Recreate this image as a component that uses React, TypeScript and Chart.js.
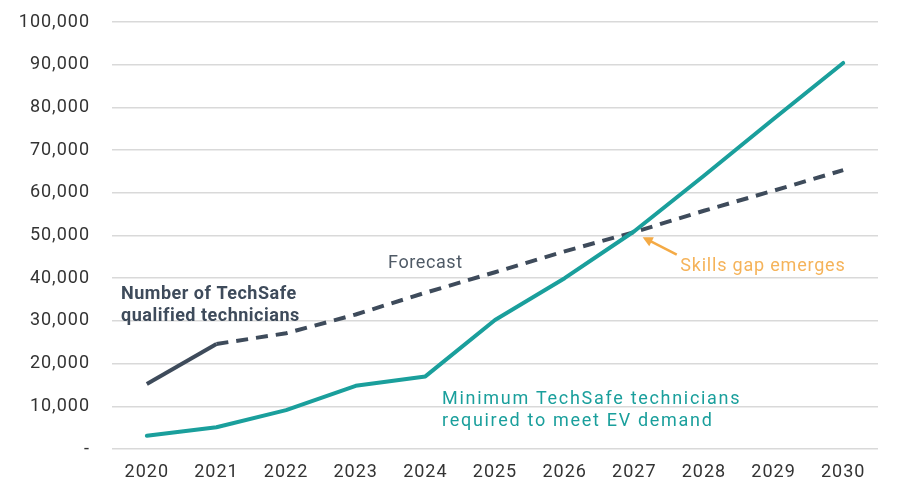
import React, { useRef, useEffect } from 'react';
import { Chart, registerables } from 'chart.js';

Chart.register(...registerables);

const years = ['2020', '2021', '2022', '2023', '2024', '2025', '2026', '2027', '2028', '2029', '2030'];
const qualifiedTechnicians = [15200, 24600, 27100, 31500, 36600, 41400, 46300, 50800, 55800, 60500, 65300];
const requiredTechnicians = [3100, 5100, 9100, 14800, 17000, 30200, 40000, 51000, 64000, 77300, 90400];
const yTicks = [0, 10000, 20000, 30000, 40000, 50000, 60000, 70000, 80000, 90000, 100000];

const TEAL = '#1a9f9c';
const SLATE = '#3e4b5b';
const ORANGE = '#f4aa45';

// text notes anchored to category index / value
const notes = [
    { lines: ['Number of TechSafe', 'qualified technicians'], x: -0.37, y: 36200, color: SLATE, weight: 'bold', align: 'left', spacing: 0.5 },
    { lines: ['Forecast'], x: 4.0, y: 43400, color: '#4f5a66', weight: 'normal', align: 'center', spacing: 0.6 },
    { lines: ['Skills gap emerges'], x: 7.66, y: 42700, color: '#f5b35a', weight: 'normal', align: 'left', spacing: 0.8 },
    { lines: ['Minimum TechSafe technicians', 'required to meet EV demand'], x: 4.24, y: 11500, color: TEAL, weight: 'normal', align: 'left', spacing: 1.7 },
];
const gapArrow = { from: [7.61, 45500], to: [7.12, 49600] };

const spacingPlugin = {
    id: 'spacing',
    beforeUpdate(chart: any) { chart.ctx.letterSpacing = '1px'; },
    beforeDraw(chart: any) { chart.ctx.letterSpacing = '1px'; },
};

const notesPlugin = {
    id: 'notes',
    afterDatasetsDraw(chart: any) {
        const { ctx, scales } = chart;
        const xs = scales.x;
        const ys = scales.y;
        const step = xs.getPixelForValue(1) - xs.getPixelForValue(0);
        const px = (i: number) => xs.getPixelForValue(0) + i * step;
        ctx.save();
        ctx.textBaseline = 'middle';
        for (const n of notes) {
            ctx.font = `${n.weight} 18px Roboto, sans-serif`;
            ctx.letterSpacing = `${n.spacing}px`;
            ctx.fillStyle = n.color;
            ctx.textAlign = n.align;
            n.lines.forEach((line, k) => {
                ctx.fillText(line, px(n.x), ys.getPixelForValue(n.y) + k * 22);
            });
        }
        // arrow to the crossing point
        const x1 = px(gapArrow.from[0]);
        const y1 = ys.getPixelForValue(gapArrow.from[1]);
        const x2 = px(gapArrow.to[0]);
        const y2 = ys.getPixelForValue(gapArrow.to[1]);
        const ang = Math.atan2(y2 - y1, x2 - x1);
        ctx.strokeStyle = ORANGE;
        ctx.fillStyle = ORANGE;
        ctx.lineWidth = 2.5;
        ctx.beginPath();
        ctx.moveTo(x1, y1);
        ctx.lineTo(x2 - 6 * Math.cos(ang), y2 - 6 * Math.sin(ang));
        ctx.stroke();
        ctx.beginPath();
        ctx.moveTo(x2, y2);
        ctx.lineTo(x2 - 10 * Math.cos(ang) + 5 * Math.sin(ang), y2 - 10 * Math.sin(ang) - 5 * Math.cos(ang));
        ctx.lineTo(x2 - 10 * Math.cos(ang) - 5 * Math.sin(ang), y2 - 10 * Math.sin(ang) + 5 * Math.cos(ang));
        ctx.closePath();
        ctx.fill();
        ctx.restore();
    },
};

const App: React.FC = () => {
    const canvasRef = useRef<HTMLCanvasElement>(null);
    const chartRef = useRef<Chart | null>(null);

    useEffect(() => {
        document.body.style.margin = '0';
        if (!canvasRef.current) return;
        if (chartRef.current) chartRef.current.destroy();
        chartRef.current = new Chart(canvasRef.current, {
            type: 'line',
            data: {
                labels: years,
                datasets: [
                    {
                        label: 'Minimum TechSafe technicians required to meet EV demand',
                        data: requiredTechnicians,
                        borderColor: TEAL,
                        borderWidth: 4,
                        pointRadius: 0,
                        tension: 0,
                        borderCapStyle: 'round',
                        borderJoinStyle: 'round',
                    },
                    {
                        label: 'Number of TechSafe qualified technicians',
                        data: qualifiedTechnicians,
                        borderColor: SLATE,
                        borderWidth: 4,
                        pointRadius: 0,
                        tension: 0,
                        borderCapStyle: 'butt',
                        // actuals up to 2021, forecast dashed after
                        segment: {
                            borderDash: (ctx: any) => (ctx.p0DataIndex >= 1 ? [12, 8] : undefined),
                        },
                    },
                ],
            },
            options: {
                animation: false,
                responsive: true,
                maintainAspectRatio: false,
                layout: { padding: { top: 22, right: 23, left: 0, bottom: 0 } },
                plugins: {
                    legend: { display: false },
                    tooltip: { enabled: false },
                },
                scales: {
                    x: {
                        offset: true,
                        grid: { display: false },
                        border: { display: false },
                        ticks: {
                            color: '#333333',
                            font: { family: 'Roboto, sans-serif', size: 18 },
                            padding: 5,
                            maxRotation: 0,
                        },
                        afterFit: (scale: any) => { scale.height = 46; },
                    },
                    y: {
                        min: 0,
                        max: 100000,
                        afterBuildTicks: (scale: any) => { scale.ticks = yTicks.map((v) => ({ value: v })); },
                        grid: { color: '#d9d9d9', lineWidth: 1.5, drawTicks: true, tickLength: 22, tickColor: 'rgba(0,0,0,0)' },
                        border: { display: false },
                        ticks: {
                            color: '#333333',
                            font: { family: 'Roboto, sans-serif', size: 18 },
                            padding: 0,
                            callback: (v: any) => (Number(v) === 0 ? '-' : Number(v).toLocaleString('en-US')),
                        },
                        afterFit: (scale: any) => { scale.width = 112; },
                    },
                },
            },
            plugins: [spacingPlugin, notesPlugin],
        });
        return () => {
            if (chartRef.current) {
                chartRef.current.destroy();
                chartRef.current = null;
            }
        };
    }, []);

    return (
        <div style={{ position: 'relative', width: 901, height: 495, background: '#fff' }}>
            <canvas ref={canvasRef}></canvas>
        </div>
    );
};

export default App;
